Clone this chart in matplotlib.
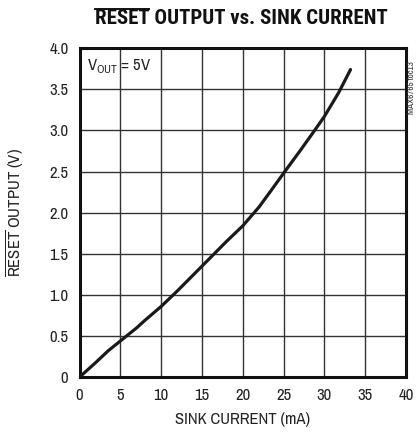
import matplotlib
matplotlib.use("Agg")
import matplotlib.pyplot as plt
from matplotlib.lines import Line2D

# data
sink_current = [0, 1, 2, 3.5, 5, 7, 8, 10, 12, 15, 18, 20, 22, 23.4, 25, 27, 28.8, 30, 31.75, 33.2]
reset_output = [0, 0.09, 0.18, 0.32, 0.44, 0.60, 0.69, 0.86, 1.05, 1.35, 1.65, 1.84, 2.07, 2.26, 2.48, 2.75, 3.00, 3.17, 3.46, 3.74]
x_ticks = [0, 5, 10, 15, 20, 25, 30, 35, 40]
x_tick_labels = ["0", "5", "10", "15", "20", "25", "30", "35", "40"]
y_ticks = [0, 0.5, 1.0, 1.5, 2.0, 2.5, 3.0, 3.5, 4.0]
y_tick_labels = ["0", "0.5", "1.0", "1.5", "2.0", "2.5", "3.0", "3.5", "4.0"]

FAM = ["Archivo Narrow", "Liberation Sans Narrow", "DejaVu Sans"]
BOLDFAM = ["Roboto Condensed", "Barlow Condensed", "Archivo Narrow", "DejaVu Sans"]
plt.rcParams["font.family"] = FAM
plt.rcParams["mathtext.fontset"] = "custom"
plt.rcParams["mathtext.rm"] = "Archivo Narrow"

fig = plt.figure(figsize=(4.19, 4.38), dpi=100)
ax = fig.add_axes([0.19, 0.139, 0.779, 0.751])

ax.plot(sink_current, reset_output, color="#1a1a1a", lw=2.3, solid_capstyle="round", zorder=3)
ax.set_xlim(0, 40)
ax.set_ylim(0, 4.0)
ax.set_xticks(x_ticks)
ax.set_xticklabels(x_tick_labels)
ax.set_yticks(y_ticks)
ax.set_yticklabels(y_tick_labels)
ax.tick_params(length=0, labelsize=12, pad=8, colors="#222")
ax.grid(True, color="#333", lw=1.0)
for s in ax.spines.values():
    s.set_linewidth(2.2)
    s.set_color("#111")

ax.set_xlabel("SINK CURRENT (mA)", fontsize=12, color="#222", labelpad=6)

ax.text(0.9, 3.78, r"V$_{\mathregular{OUT}}$ = 5V", fontsize=12, color="#222", va="center", ha="left")

ylab = fig.text(0.036, 0.515, r"$\overline{\mathrm{RESET}}$ OUTPUT (V)", rotation=90, fontsize=12,
                color="#222", ha="center", va="center")
title = fig.text(0.575, 0.958, "RESET OUTPUT vs. SINK CURRENT", fontsize=15, fontweight="bold",
                 family=BOLDFAM, color="#111", ha="center", va="center")
fig.text(0.983, 0.80, "MAX6765 toc13", rotation=90, fontsize=6.5, color="#333", ha="center", va="center")

fig.canvas.draw()
r = fig.canvas.get_renderer()

def overline_h(txt_obj, word, full, lw=1.3, gap=2):
    fp = txt_obj.get_fontproperties()
    bb = txt_obj.get_window_extent(r)
    w_word, _, _ = r.get_text_width_height_descent(word, fp, ismath=False)
    w_full, _, _ = r.get_text_width_height_descent(full, fp, ismath=False)
    x0 = bb.x0 + (bb.width - w_full) / 2
    y = bb.y1 + gap
    W, H = fig.bbox.width, fig.bbox.height
    fig.add_artist(Line2D([x0 / W, (x0 + w_word) / W], [y / H, y / H], transform=fig.transFigure,
                          color=txt_obj.get_color(), lw=lw))

overline_h(title, "RESET", "RESET OUTPUT vs. SINK CURRENT", lw=1.4, gap=0)

fig.savefig("out.png", dpi=100)
